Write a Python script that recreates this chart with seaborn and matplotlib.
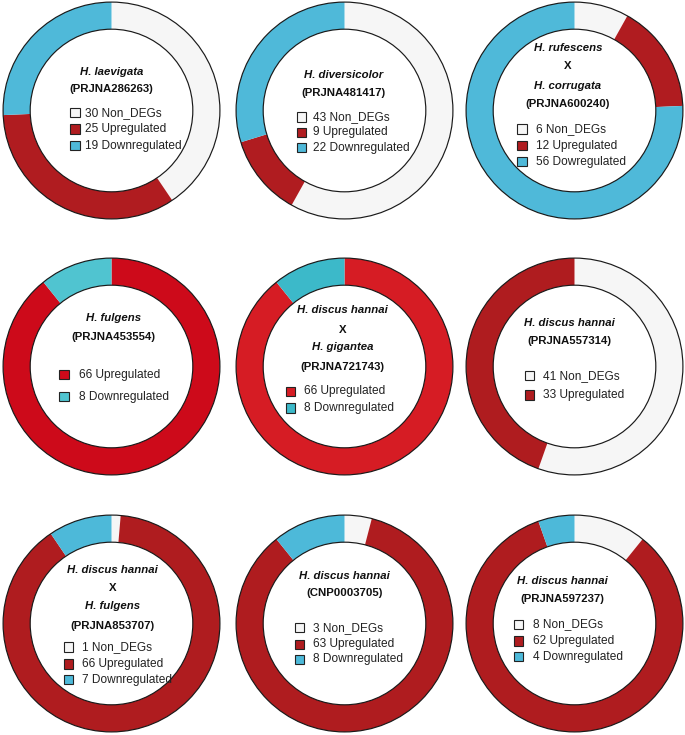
import matplotlib
matplotlib.use("Agg")
import matplotlib.pyplot as plt
from matplotlib.patches import Circle, Rectangle
import seaborn as sns

# ---------------- data ----------------
species = [
    ["H. laevigata"],
    ["H. diversicolor"],
    ["H. rufescens", "H. corrugata"],
    ["H. fulgens"],
    ["H. discus hannai", "H. gigantea"],
    ["H. discus hannai"],
    ["H. discus hannai", "H. fulgens"],
    ["H. discus hannai"],
    ["H. discus hannai"],
]
accessions = ["(PRJNA286263)", "(PRJNA481417)", "(PRJNA600240)",
              "(PRJNA453554)", "(PRJNA721743)", "(PRJNA557314)",
              "(PRJNA853707)", "(CNP0003705)", "(PRJNA597237)"]
non_degs = [30, 43, 6, 0, 0, 41, 1, 3, 8]
upregulated = [25, 9, 12, 66, 66, 33, 66, 63, 62]
downregulated = [19, 22, 56, 8, 8, 0, 7, 8, 4]
down_words = ["Downregulated", "Downregulated", "Dowregulated",
              "Downregulated", "Downregulated", "Downregulated",
              "Downregulated", "Downregulated", "Downregulated"]

# ---------------- styles ----------------
white_c = "#F6F6F6"
red_c = ["#B01C20", "#B01C20", "#B01C20", "#CD0A1A", "#D61C24",
         "#AF1C1F", "#AF1C1F", "#AF1C1F", "#AF1C1F"]
blue_c = ["#4FB9D9", "#4FB9D9", "#4FB9D9", "#50C4D0", "#3CB9C9",
          "#4FB9D9", "#4DB9D9", "#4DB9D9", "#4DB9D9"]

# layout (fractions from top of each ring box)
title_y = [[0.326, 0.40], [0.34, 0.42], [0.215, 0.295, 0.39, 0.472],
           [0.28, 0.366], [0.241, 0.333, 0.412, 0.504], [0.302, 0.382],
           [0.255, 0.336, 0.42, 0.511], [0.282, 0.359], [0.305, 0.389]]
row_y = [[0.51, 0.585, 0.66], [0.53, 0.60, 0.67], [0.585, 0.66, 0.734],
         [0.537, 0.637], [0.614, 0.69], [0.542, 0.63],
         [0.607, 0.684, 0.756], [0.519, 0.595, 0.664], [0.504, 0.58, 0.652]]
title_x = [0.50, 0.495, 0.47, 0.51, 0.49, 0.475, 0.505, 0.50, 0.446]
sq_x = [0.312, 0.282, 0.237, 0.262, 0.232, 0.272, 0.282, 0.272, 0.222]
txt_x = [0.38, 0.357, 0.326, 0.35, 0.316, 0.354, 0.366, 0.354, 0.31]

sns.set_style("white")
plt.rcParams["font.family"] = ["Liberation Sans", "DejaVu Sans"]

W, H = 685, 735
fig = plt.figure(figsize=(W / 100, H / 100), dpi=100)
cols = [(2, 221), (235, 454), (465, 684)]
rows = [(1, 220), (257, 476), (514, 733)]

fs_title = 8.2
fs = 8.6
for i in range(9):
    r, c = divmod(i, 3)
    x0, x1 = cols[c]
    y0, y1 = rows[r]
    ax = fig.add_axes([x0 / W, 1 - y1 / H, (x1 - x0) / W, (y1 - y0) / H])
    vals = [non_degs[i], upregulated[i], downregulated[i]]
    cols_i = [white_c, red_c[i], blue_c[i]]
    ax.pie(vals, colors=cols_i, startangle=90, counterclock=False,
           radius=1.0, wedgeprops=dict(width=0.25, linewidth=0))
    ax.set_aspect("auto")
    ax.set_xlim(-1.01, 1.01)
    ax.set_ylim(-1.01, 1.01)
    ax.add_patch(Circle((0, 0), 1.0, fill=False, ec="#1a1a1a", lw=0.85))
    ax.add_patch(Circle((0, 0), 0.75, fill=False, ec="#1a1a1a", lw=0.85))
    ax.axis("off")

    # title lines
    lines = []
    sp = species[i]
    lines.append((sp[0], "italic"))
    if len(sp) > 1:
        lines.append(("X", "normal"))
        lines.append((sp[1], "italic"))
    lines.append((accessions[i], "normal"))
    for (txt, style), ty in zip(lines, title_y[i]):
        ax.text(title_x[i], 1 - ty, txt, transform=ax.transAxes,
                ha="center", va="center", fontsize=fs_title,
                fontweight="bold", fontstyle=style, color="#111111")

    # legend entries
    entries = []
    words = ["Non_DEGs", "Upregulated", down_words[i]]
    for v, w, col in zip(vals, words, cols_i):
        if v > 0:
            entries.append((f"{v} {w}", col))
    sw, sh = 0.044, 0.043
    for (lab, col), ry in zip(entries, row_y[i]):
        yy = 1 - ry
        ax.add_patch(Rectangle((sq_x[i], yy - sh / 2), sw, sh,
                               transform=ax.transAxes, fc=col,
                               ec="#222222", lw=0.8, clip_on=False))
        ax.text(txt_x[i], yy, lab, transform=ax.transAxes, ha="left",
                va="center", fontsize=fs, color="#222222")

fig.savefig("out.png", dpi=100)
